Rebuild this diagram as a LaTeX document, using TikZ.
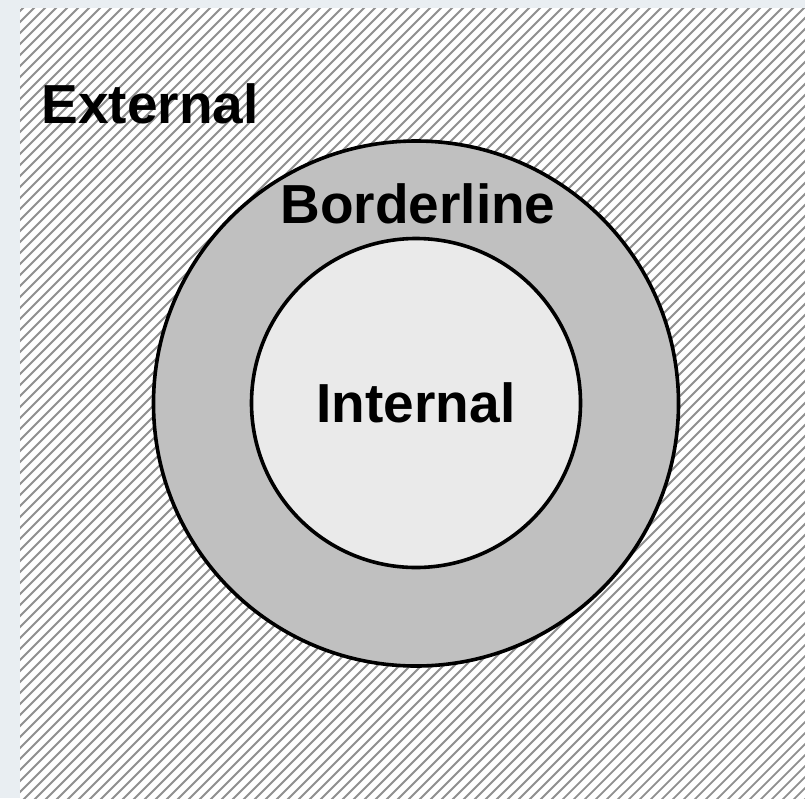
\documentclass[tikz,border=0pt]{standalone}
\usepackage{fontspec}
\setmainfont{Liberation Sans}
\definecolor{pagebg}{HTML}{E9EEF2}
\definecolor{hatchline}{HTML}{909090}
\definecolor{ringfill}{HTML}{C0C0C0}
\definecolor{corefill}{HTML}{EAEAEA}
\begin{document}
\begin{tikzpicture}[x=1pt,y=-1pt,
  zone/.style={circle,draw=black,line width=3.6pt,inner sep=0pt},
  label/.style={anchor=base,font=\fontsize{55}{60}\selectfont\bfseries,inner sep=0pt}]
  % page and hatched outer area
  \fill[pagebg] (0,0) rectangle (805,798);
  \useasboundingbox (0,0) rectangle (805,798);
  \fill[white] (20,8) rectangle (805,798);
  \begin{scope}
    \clip (20,8) rectangle (805,798);
    \foreach \c in {20,31,...,1620}
      \draw[hatchline,line width=1.8pt] (\c-800,800) -- (\c,0);
  \end{scope}
  % regions
  \node[zone,fill=ringfill,minimum size=525pt] (border) at (416,403.5) {};
  \node[zone,fill=corefill,minimum size=329pt] (core) at (416,403) {};
  % labels
  \node[label] (ext) at (150,123) {External};
  \node[label] (bord) at (418,223) {Borderline};
  \node[label] (int) at (416,422) {Internal};
\end{tikzpicture}
\end{document}
